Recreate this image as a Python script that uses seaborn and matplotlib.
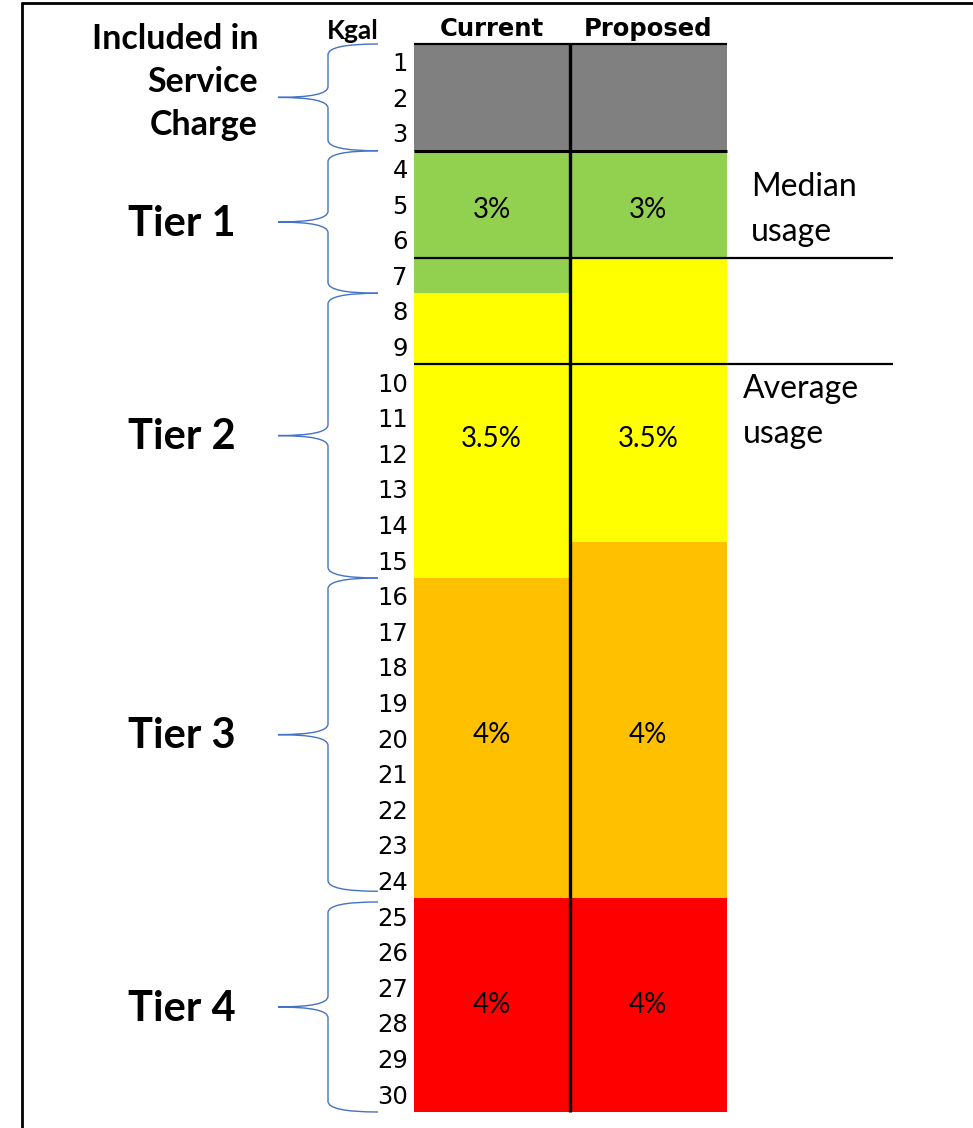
import numpy as np
import pandas as pd
import matplotlib
matplotlib.use("Agg")
import matplotlib.pyplot as plt
from matplotlib.path import Path
from matplotlib.patches import PathPatch
from matplotlib.lines import Line2D
import seaborn as sns

# ---------------- data ----------------
plans = ["Current", "Proposed"]
segment_names = ["Service charge", "Tier 1", "Tier 2", "Tier 3", "Tier 4"]
current_bounds = [0, 3, 7, 15, 24, 30]
proposed_bounds = [0, 3, 6, 14, 24, 30]
segment_colors = ["#808080", "#92D050", "#FFFF00", "#FFC000", "#FF0000"]
rate_labels = ["", "3%", "3.5%", "4%", "4%"]
kgal_labels = [str(k) for k in range(1, 31)]
median_usage = 6
average_usage = 9
tier_labels = ["Included in\nService\nCharge", "Tier 1", "Tier 2", "Tier 3", "Tier 4"]
tier_ranges = [(0, 3), (3, 7), (7, 15), (15, 23.8), (24.1, 30)]

# ---------------- layout (not data) ----------------
W, H = 973, 1128
COL = 156.5                      # pixel width of one column
AX_L, AX_R, AX_T, AX_B = 413.5, 893, 44, 1112
XMAX = -0.5 + (AX_R - AX_L) / COL
rate_y = [None, 4.66, 11.1, 19.4, 27.0]

def px2x(px):
    return (px - AX_L) / COL - 0.5

rows = []
for i, name in enumerate(segment_names):
    for plan, b in zip(plans, [current_bounds, proposed_bounds]):
        rows.append(dict(plan=plan, segment=name, bottom=b[i], height=b[i + 1] - b[i]))
df = pd.DataFrame(rows)

sns.set_style("white")
plt.rcParams["font.family"] = ["DejaVu Sans"]
plt.rcParams["text.color"] = "black"
plt.rcParams["xtick.color"] = "black"
plt.rcParams["ytick.color"] = "black"

fig = plt.figure(figsize=(W / 100, H / 100), dpi=100)
fig.patch.set_facecolor("white")
ax = fig.add_axes([AX_L / W, 1 - AX_B / H, (AX_R - AX_L) / W, (AX_B - AX_T) / H])

for i, name in enumerate(segment_names):
    sub = df[df["segment"] == name]
    sns.barplot(data=sub, x="plan", y="height", order=plans, bottom=sub["bottom"].values,
                color=segment_colors[i], saturation=1, width=1, errorbar=None,
                linewidth=0, edgecolor="none", ax=ax)

ax.set_ylim(30, 0)
ax.set_xlim(-0.5, XMAX)
for s in ax.spines.values():
    s.set_visible(False)
ax.set_xlabel("")
ax.set_ylabel("")

# y ticks (Kgal)
ax.set_yticks(np.arange(30) + 0.5)
ax.set_yticklabels(kgal_labels, fontsize=17.5, family="DejaVu Sans", color="black")
ax.tick_params(axis="y", length=0, pad=4)

# x ticks on top
ax.xaxis.tick_top()
ax.set_xticks([0, 1])
ax.set_xticklabels(plans, fontsize=17.5, fontweight="bold", family="DejaVu Sans",
                   color="black")
ax.tick_params(axis="x", length=0, pad=2)

# black lines
k = dict(color="black", clip_on=False, solid_capstyle="butt")
ax.plot([-0.5, 1.5], [0, 0], lw=1.6, **k)
ax.plot([-0.5, 1.5], [3, 3], lw=2.2, **k)
ax.plot([-0.5, XMAX], [median_usage, median_usage], lw=1.6, **k)
ax.plot([-0.5, XMAX], [average_usage, average_usage], lw=1.6, **k)
ax.plot([0.5, 0.5], [0, 30], lw=2.4, **k)

# rate labels
for i, lab in enumerate(rate_labels):
    if lab:
        for xi in [0, 1]:
            ax.text(xi, rate_y[i], lab, ha="center", va="center", fontsize=20,
                    family="Lato", color="black")

# usage annotations
ax.text(px2x(751), 4.65, "Median\nusage", ha="left", va="center", fontsize=23,
        family="Lato", linespacing=1.62, clip_on=False, color="black")
ax.text(px2x(743), 10.33, "Average\nusage", ha="left", va="center", fontsize=23,
        family="Lato", linespacing=1.62, clip_on=False, color="black")

# header Kgal
ax.text(px2x(353), -0.37, "Kgal", ha="center", va="center", fontsize=19,
        fontweight="bold", family="Lato", clip_on=False, color="black")

# braces
x_tip, x_vert, x_end = px2x(278), px2x(328), px2x(378)
r = 0.3

def brace(y0, y1):
    ym = (y0 + y1) / 2
    verts = [(x_end, y0), (x_vert, y0), (x_vert, y0 + r),
             (x_vert, ym - r), (x_vert, ym), (x_tip, ym),
             (x_vert, ym), (x_vert, ym + r),
             (x_vert, y1 - r), (x_vert, y1), (x_end, y1)]
    codes = [Path.MOVETO, Path.CURVE3, Path.CURVE3,
             Path.LINETO, Path.CURVE3, Path.CURVE3,
             Path.CURVE3, Path.CURVE3,
             Path.LINETO, Path.CURVE3, Path.CURVE3]
    p = PathPatch(Path(verts, codes), facecolor="none", edgecolor="#4472C4",
                  lw=1.0, clip_on=False, transform=ax.transData)
    ax.add_patch(p)

for (y0, y1) in tier_ranges:
    brace(y0, y1)

# tier labels
for i, ((y0, y1), lab) in enumerate(zip(tier_ranges, tier_labels)):
    ym = (y0 + y1) / 2
    if i == 0:
        ax.text(px2x(258), 1.07, lab, ha="right", va="center", fontsize=24.5,
                fontweight="bold", family="Lato", linespacing=1.43, clip_on=False,
                color="black")
    else:
        ax.text(px2x(182), ym + 0.05, lab, ha="center", va="center", fontsize=30,
                fontweight="bold", family="Lato", clip_on=False, color="black")

# outer frame of the screenshot
fig.add_artist(Line2D([22 / W, 22 / W], [0, 1 - 3 / H], transform=fig.transFigure,
                      color="black", lw=2))
fig.add_artist(Line2D([22 / W, 1], [1 - 3 / H, 1 - 3 / H], transform=fig.transFigure,
                      color="black", lw=2))

fig.savefig("out.png", dpi=100, facecolor="white")
